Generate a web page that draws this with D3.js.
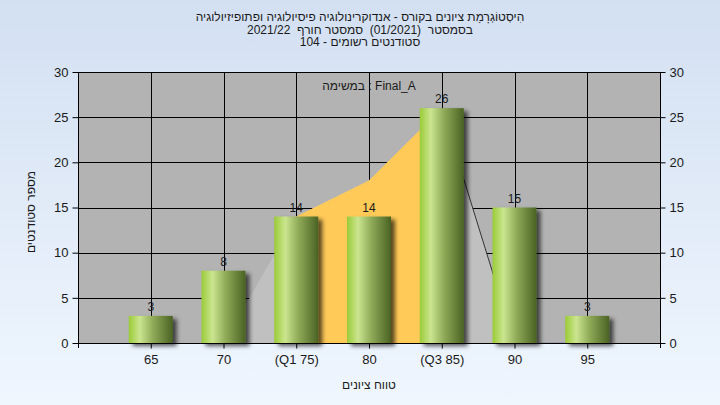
<!DOCTYPE html>
<html><head><meta charset="utf-8">
<script src="https://cdn.jsdelivr.net/npm/d3@7"></script>
<style>
html,body{margin:0;padding:0;width:720px;height:405px;overflow:hidden;}
text{font-family:"Liberation Sans","DejaVu Sans",Arial,sans-serif;}
</style></head>
<body><svg id="c" width="720" height="405"></svg>
<script>
const categories = ["65","70","(Q1 75)","80","(Q3 85)","90","95"];
const counts = [3,8,14,14,26,15,3];
const curveValues = [0,0,14,18,26,0,0];
const yTicks = [0,5,10,15,20,25,30];
const titleLines = [
  "הִיסְטוֹגְרָמַת ציונים בקורס - אנדוקרינולוגיה פיסיולוגיה ופתופיזיולוגיה",
  "בסמסטר  (01/2021)  סמסטר חורף  2021/22",
  "סטודנטים רשומים - 104"
];
const legendText = "במשימה : Final_A";
const xTitle = "טווח ציונים";
const yTitle = "מספר סטודנטים";

const svg = d3.select("#c");
const W = 720, H = 405;
const L = 78, R = 660, T = 72, B = 343;

const defs = svg.append("defs");
const bg = defs.append("linearGradient").attr("id","bg").attr("x1",0).attr("y1",0).attr("x2",0).attr("y2",1);
bg.append("stop").attr("offset","0%").attr("stop-color","#d3e0f2");
bg.append("stop").attr("offset","100%").attr("stop-color","#eff6fe");
const bar = defs.append("linearGradient").attr("id","bar").attr("x1",0).attr("y1",0).attr("x2",1).attr("y2",0);
[["0%","#9acb38"],["25%","#cbe58f"],["55%","#8fab58"],["100%","#4a6223"]].forEach(s=>bar.append("stop").attr("offset",s[0]).attr("stop-color",s[1]));
const f = defs.append("filter").attr("id","sh").attr("x","-20%").attr("y","-20%").attr("width","150%").attr("height","150%");
f.append("feDropShadow").attr("dx",4).attr("dy",3).attr("stdDeviation",2).attr("flood-color","#000").attr("flood-opacity",0.65);

svg.append("rect").attr("width",W).attr("height",H).attr("fill","url(#bg)");

const x = d3.scalePoint().domain(categories).range([L,R]).padding(1);
const y = d3.scaleLinear().domain([0,30]).range([B,T]);

svg.append("rect").attr("x",L).attr("y",T).attr("width",R-L).attr("height",B-T).attr("fill","#b3b3b3");

// grid
const g = svg.append("g").attr("stroke","#000").attr("stroke-width",1).attr("shape-rendering","crispEdges");
yTicks.forEach(t=>g.append("line").attr("x1",L).attr("x2",R).attr("y1",Math.round(y(t))+0.5).attr("y2",Math.round(y(t))+0.5));
categories.forEach(c=>g.append("line").attr("x1",Math.round(x(c))+0.5).attr("x2",Math.round(x(c))+0.5).attr("y1",T).attr("y2",B));

// areas
const pts = categories.map((c,i)=>({c, v:curveValues[i]}));
const area = d3.area().x(d=>x(d.c)).y0(y(0)).y1(d=>y(d.v));
svg.append("path").datum(pts).attr("d",area).attr("fill","#c0c0c0");
svg.append("path").datum(pts.slice(2,5)).attr("d",area).attr("fill","#ffca58");
svg.append("path").datum(pts.slice(4,6)).attr("d",d3.line().x(d=>x(d.c)).y(d=>y(d.v))).attr("fill","none").attr("stroke","#333").attr("stroke-width",1);
svg.append("path").datum(pts.slice(5,7)).attr("d",d3.line().x(d=>x(d.c)).y(d=>y(d.v)-0.5)).attr("fill","none").attr("stroke","#9aa0aa").attr("stroke-width",1);

// bars
const bw = 44;
svg.append("g").selectAll("rect").data(categories).join("rect")
  .attr("x",c=>x(c)-bw/2).attr("width",bw)
  .attr("y",(c,i)=>y(counts[i])).attr("height",(c,i)=>y(0)-y(counts[i]))
  .attr("fill","url(#bar)").attr("filter","url(#sh)");

// value labels
svg.append("g").selectAll("text").data(categories).join("text")
  .attr("x",c=>x(c)).attr("y",(c,i)=>y(counts[i])-5)
  .attr("text-anchor","middle").attr("font-size",12).attr("fill","#1a1a1a")
  .text((c,i)=>counts[i]);

// axes lines
const ax = svg.append("g").attr("stroke","#000").attr("shape-rendering","crispEdges");
ax.append("line").attr("x1",L+0.5).attr("x2",L+0.5).attr("y1",T).attr("y2",B+5);
ax.append("line").attr("x1",R+0.5).attr("x2",R+0.5).attr("y1",T).attr("y2",B+5);
ax.append("line").attr("x1",L).attr("x2",R).attr("y1",B+0.5).attr("y2",B+0.5);
ax.append("line").attr("x1",L).attr("x2",R).attr("y1",T+0.5).attr("y2",T+0.5);

const leftAxis = d3.axisLeft(y).tickValues(yTicks).tickSize(6).tickPadding(4);
const la = svg.append("g").attr("transform",`translate(${L+0.5},0)`).call(leftAxis);
const rightAxis = d3.axisRight(y).tickValues(yTicks).tickSize(5).tickPadding(4);
const ra = svg.append("g").attr("transform",`translate(${R+0.5},0)`).call(rightAxis);
const bottomAxis = d3.axisBottom(x).tickSize(5).tickPadding(6);
const ba = svg.append("g").attr("transform",`translate(0,${B+0.5})`).call(bottomAxis);
[la,ra,ba].forEach(a=>{
  a.select(".domain").remove();
  a.selectAll("line").attr("stroke","#000");
  a.selectAll("text").attr("font-size",13).attr("fill","#1a1a1a").attr("font-family","Liberation Sans, Arial, sans-serif");
});

// titles
svg.append("g").selectAll("text").data(titleLines).join("text")
  .attr("x",360).attr("y",(d,i)=>21+i*12.5)
  .attr("text-anchor","middle").attr("direction","rtl").attr("font-size",12).attr("fill","#1a1a1a")
  .style("white-space","pre")
  .text(d=>d);

svg.append("text").attr("x",(L+R)/2).attr("y",90).attr("text-anchor","middle").attr("font-size",12).attr("fill","#1a1a1a").text(legendText);
svg.append("text").attr("x",(L+R)/2).attr("y",389).attr("text-anchor","middle").attr("font-size",12).attr("fill","#1a1a1a").text(xTitle);
svg.append("text").attr("transform","translate(35,212) rotate(-90)").attr("text-anchor","middle").attr("font-size",12).attr("fill","#1a1a1a").text(yTitle);
</script></body></html>
